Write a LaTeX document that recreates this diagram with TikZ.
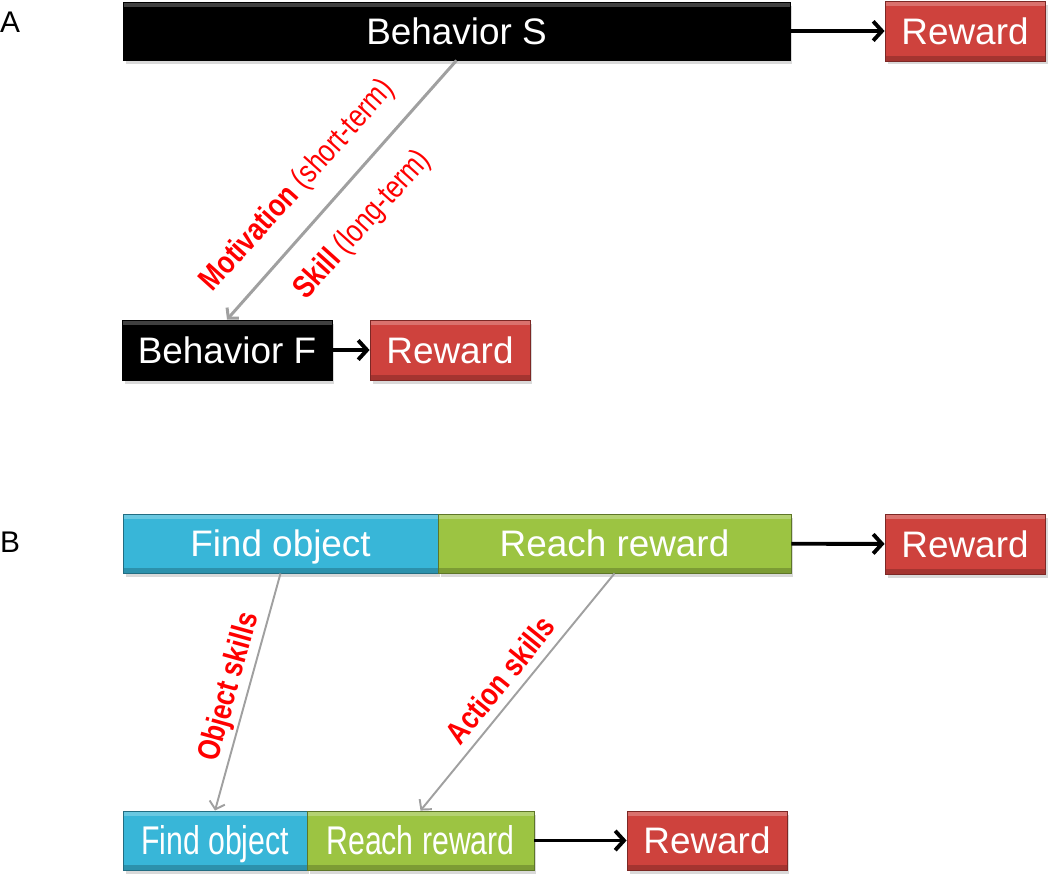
\documentclass[tikz,border=0pt]{standalone}
\usepackage{fontspec}
\setmainfont{Liberation Sans}
\newfontfamily\narrowfont[FakeStretch=0.755]{Liberation Sans}
\newfontfamily\labelfont[FakeStretch=0.82]{Liberation Sans}
\usetikzlibrary{arrows.meta,shadows}

\definecolor{boxred}{RGB}{206,66,61}
\definecolor{boxblue}{RGB}{56,182,216}
\definecolor{boxgreen}{RGB}{156,196,66}
\definecolor{linkgray}{RGB}{160,160,160}

\tikzset{
  box/.style={fill=#1, draw=#1!60!black, line width=0.5pt, text=white,
    inner sep=0pt, minimum height=1.18cm, font=\fontsize{21}{25}\selectfont,
    text height=15pt, text depth=0pt,
    drop shadow={shadow xshift=0.5mm, shadow yshift=-0.7mm, opacity=0.3},
    path picture={
      \fill[white, opacity=0.25] (path picture bounding box.north west)
        rectangle ([yshift=-3pt]path picture bounding box.north east);
      \fill[black, opacity=0.2] (path picture bounding box.south west)
        rectangle ([yshift=3pt]path picture bounding box.south east);
    }},
  narrow/.style={font=\narrowfont\fontsize{22.8}{27}\selectfont, text height=16.3pt},
  lbl/.style={text=red, inner sep=0pt, font=\labelfont\fontsize{18}{21}\selectfont},
  panel/.style={inner sep=0pt, font=\fontsize{17}{20}\selectfont},
  flow/.style={->, line width=2.2pt, >={Straight Barb[length=5pt,width=11pt]}},
  skill/.style={->, draw=linkgray, >={Straight Barb[length=4pt,width=9pt]}}
}

\begin{document}
\begin{tikzpicture}[x=0.02cm, y=-0.02cm]
  \useasboundingbox (0,0) rectangle (1050,880);

  % panel A
  \path (10,22)      node[panel] (labA) {A}
        (456.5,31)   node[box=black, minimum width=13.34cm, minimum height=1.16cm] (behS) {Behavior S}
        (965,31)     node[box=boxred, minimum width=3.2cm, minimum height=1.2cm] (rewS) {Reward}
        (227,350)    node[box=black, minimum width=4.2cm, minimum height=1.2cm] (behF) {Behavior F}
        (450,350)    node[box=boxred, minimum width=3.2cm, minimum height=1.2cm] (rewF) {Reward};

  \draw[flow] (behS) -- (rewS);
  \draw[flow] (behF) -- (rewF);
  \draw[skill, line width=1.7pt] (behS.south) -- (behF.north);

  \path (298,186) node[lbl, rotate=48] (motiv) {\textbf{Motivation} (short-term)}
        (363,225) node[lbl, rotate=48] (skl)   {\textbf{Skill} (long-term)};

  % panel B
  \path (10,542)      node[panel] (labB) {B}
        (280.5,543.5) node[box=boxblue, minimum width=6.3cm] (find) {Find object}
        (614.5,543.5) node[box=boxgreen, minimum width=7.06cm] (reach) {Reach reward}
        (965,544)     node[box=boxred, minimum width=3.2cm, minimum height=1.2cm] (rewB) {Reward}
        (215,840.5)   node[box=boxblue, narrow, minimum width=3.68cm] (findS) {Find object}
        (420.5,840.5) node[box=boxgreen, narrow, minimum width=4.54cm] (reachS) {Reach reward}
        (707,840.5)   node[box=boxred, minimum width=3.2cm] (rewBS) {Reward};

  \draw[flow] (reach) -- (rewB);
  \draw[flow] (reachS) -- (rewBS);
  \draw[skill, line width=1.1pt] (find.south) -- (findS.north);
  \draw[skill, line width=1.1pt] (reach.south) -- (reachS.north);

  \path (230,687) node[lbl, rotate=74.5] (objsk) {\textbf{Object skills}}
        (500,680) node[lbl, rotate=51] (actsk) {\textbf{Action skills}};
\end{tikzpicture}
\end{document}
